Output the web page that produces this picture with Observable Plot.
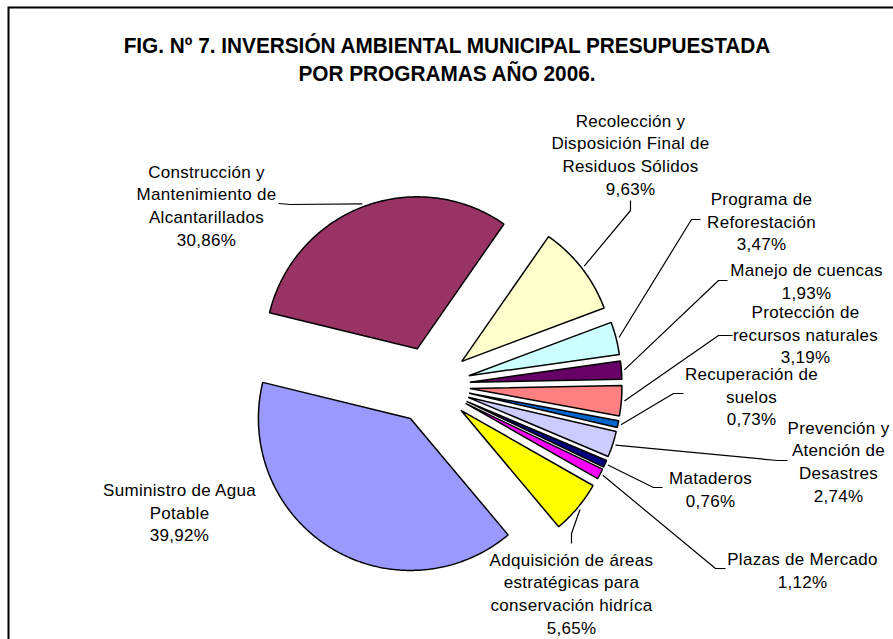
<!DOCTYPE html>
<html><head><meta charset="utf-8">
<script src="https://cdn.jsdelivr.net/npm/d3@7"></script>
<script src="https://cdn.jsdelivr.net/npm/@observablehq/plot@0.6"></script>
<style>
body{margin:0;background:#fff}
</style>
</head><body><div id="chart"></div>
<script>
// ---- data ----
const programas = [
  "Suministro de Agua\nPotable",
  "Construcción y\nMantenimiento de\nAlcantarillados",
  "Recolección y\nDisposición Final de\nResiduos Sólidos",
  "Programa de\nReforestación",
  "Manejo de cuencas",
  "Protección de\nrecursos naturales",
  "Recuperación de\nsuelos",
  "Prevención y\nAtención de\nDesastres",
  "Mataderos",
  "Plazas de Mercado",
  "Adquisición de áreas\nestratégicas para\nconservación hidríca"
];
const porcentajes = [39.92, 30.86, 9.63, 3.47, 1.93, 3.19, 0.73, 2.74, 0.76, 1.12, 5.65];
const colores = ["#9999FF","#993366","#FFFFCC","#CCFFFF","#660066","#FF8080","#0066CC","#CCCCFF","#000080","#FF00FF","#FFFF00"];
const titulo = "FIG. Nº 7. INVERSIÓN AMBIENTAL MUNICIPAL PRESUPUESTADA\nPOR PROGRAMAS AÑO 2006.";

// ---- layout (page pixels) ----
const W = 893, H = 639;
const CX = 430.5, CY = 384.8, R = 152, EXPLODE = 39, START = 140;
const TITLE_WIDTH = 647;
const labelPos = [
  [179, 511], [206, 204], [630, 153], [761, 220], [806, 279.5], [805, 333],
  [751, 395], [838, 460], [710, 487.5], [802, 569], [571, 592]
];
const leaderElbows = [
  null,
  [[278, 203], [290, 204]],
  [[630, 200], [630, 210]],
  [[700, 219], [691, 219]],
  [[727, 280], [718, 280]],
  [[732, 335], [718, 335]],
  [[683, 393], [673, 393]],
  [[787, 460], [777, 460]],
  [[662, 487], [653, 487]],
  [[725, 568], [715, 568]],
  [[571, 543], [571, 533]]
];

const rad = d => d * Math.PI / 180;
const polar = (a, r) => [r * Math.sin(rad(a)), -r * Math.cos(rad(a))];

const slicePts = [], leaderPts = [], labels = [];
let cum = 0;
porcentajes.forEach((p, i) => {
  const a0 = START + cum * 3.6, a1 = a0 + p * 3.6, mid = (a0 + a1) / 2;
  cum += p;
  const [ox, oy] = polar(mid, EXPLODE);
  slicePts.push({k: i, x: ox, y: oy, c: colores[i]});
  const n = Math.max(2, Math.ceil((a1 - a0) / 0.5));
  for (let j = 0; j <= n; j++) {
    const [px, py] = polar(a0 + (a1 - a0) * j / n, R);
    slicePts.push({k: i, x: ox + px, y: oy + py, c: colores[i]});
  }
  labels.push({
    x: labelPos[i][0] - CX, y: labelPos[i][1] - CY,
    t: programas[i] + "\n" + p.toFixed(2).replace(".", ",") + "%"
  });
  if (leaderElbows[i]) {
    leaderElbows[i].forEach(([lx, ly]) => leaderPts.push({k: i, x: lx - CX, y: ly - CY}));
    const [ex, ey] = polar(mid, R + 3);
    leaderPts.push({k: i, x: ox + ex, y: oy + ey});
  }
});

const chart = Plot.plot({
  width: W, height: H,
  margin: 0,
  style: {overflow: "hidden", background: "white"},
  x: {type: "linear", domain: [-CX, W - CX], range: [0, W], axis: null},
  y: {type: "linear", domain: [-CY, H - CY], range: [0, H], axis: null},
  color: {type: "identity"},
  marks: [
    Plot.frame({stroke: "black", strokeWidth: 2, insetLeft: 8, insetTop: 7, insetRight: -20, insetBottom: -20}),
    Plot.line(slicePts, {x: "x", y: "y", z: "k", fill: "c", stroke: "black", strokeWidth: 1.5, curve: "linear-closed", strokeLinejoin: "miter"}),
    Plot.line(leaderPts, {x: "x", y: "y", z: "k", stroke: "black", strokeWidth: 1.2, strokeLinejoin: "miter", strokeLinecap: "butt"}),
    Plot.text(labels, {x: "x", y: "y", text: "t", fontSize: 17, lineHeight: 1.33, fill: "black",
      fontFamily: "'Liberation Sans', Arial, sans-serif"}),
    Plot.text([titulo], {frameAnchor: "top", dy: 33, lineAnchor: "top", fontSize: 22, fontWeight: "bold",
      lineHeight: 1.27, fill: "black",
      fontFamily: "'Liberation Sans Narrow', 'Arial Narrow', 'Liberation Sans', Arial, sans-serif"})
  ]
});
document.getElementById("chart").appendChild(chart);

// condense the title horizontally (Arial Narrow look)
const textGroups = chart.querySelectorAll('g[aria-label="text"]');
const labelG = textGroups[0];
labelG.style.letterSpacing = "0.3px";
const titleG = textGroups[textGroups.length - 1];
const firstLine = titleG.querySelector("tspan") || titleG.querySelector("text");
const len = firstLine.getComputedTextLength();
if (len > 0) {
  const s = TITLE_WIDTH / len;
  const cx = W / 2;
  const prev = titleG.getAttribute("transform") || "";
  titleG.setAttribute("transform", `translate(${cx},0) scale(${s},1) translate(${-cx},0) ${prev}`);
}
</script>
</body></html>
